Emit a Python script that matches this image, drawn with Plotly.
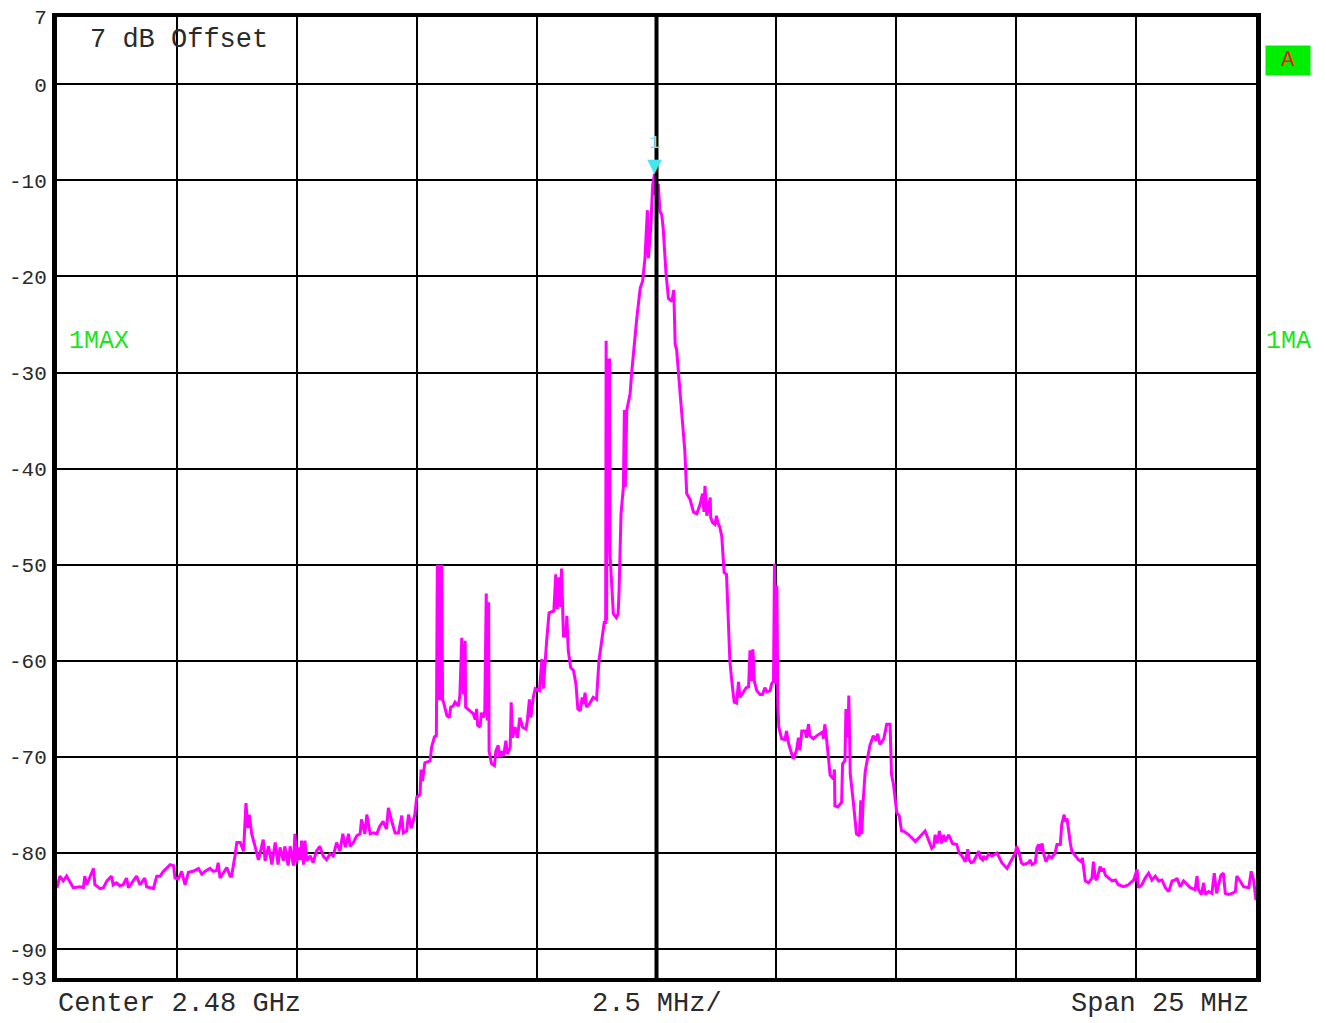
import plotly.graph_objects as go

# ---- Spectrum analyzer settings ----
center_mhz = 2480.0
span_mhz = 25.0
div_mhz = 2.5
ref_top_db = 7
ref_bottom_db = -93
y_tick_vals = [-93, -90, -80, -70, -60, -50, -40, -30, -20, -10, 0, 7]
y_tick_text = ["-93", "-90", "-80", "-70", "-60", "-50", "-40", "-30", "-20", "-10", "0", "7"]

# ---- Trace 1 (Max hold) ----
freq_left = [2467.50, 2467.56, 2467.63, 2467.70, 2467.84, 2467.98, 2468.05, 2468.08, 2468.12, 2468.26,
             2468.29, 2468.40, 2468.47, 2468.54, 2468.64, 2468.67, 2468.74, 2468.81, 2468.88, 2468.95,
             2468.99, 2469.09, 2469.16, 2469.23, 2469.33, 2469.37, 2469.51, 2469.58, 2469.65, 2469.72,
             2469.86, 2469.93, 2469.96, 2470.03, 2470.10, 2470.17, 2470.24, 2470.34, 2470.45, 2470.52,
             2470.59, 2470.69, 2470.76, 2470.83, 2470.86, 2470.90, 2470.97, 2471.04, 2471.11, 2471.14,
             2471.21, 2471.25, 2471.32, 2471.39, 2471.44, 2471.48, 2471.51, 2471.56, 2471.63, 2471.70,
             2471.73, 2471.80, 2471.84, 2471.91, 2471.98, 2472.05, 2472.11, 2472.15, 2472.22, 2472.25,
             2472.32, 2472.36, 2472.43, 2472.46, 2472.50, 2472.53, 2472.57, 2472.60, 2472.64, 2472.67,
             2472.71, 2472.78, 2472.84, 2472.91, 2472.98, 2473.05, 2473.12, 2473.19, 2473.26, 2473.33,
             2473.40, 2473.46, 2473.51, 2473.58, 2473.61, 2473.68, 2473.75, 2473.82, 2473.85, 2473.92,
             2473.96, 2474.03, 2474.10, 2474.17, 2474.23, 2474.30, 2474.37, 2474.41, 2474.48, 2474.55,
             2474.62, 2474.69, 2474.72, 2474.79, 2474.83, 2474.89, 2474.96]
level_left = [-83.6, -82.4, -82.9, -82.4, -83.6, -83.5, -83.6, -82.4, -83.3, -81.6,
              -83.3, -83.7, -83.6, -82.9, -82.4, -83.3, -83.1, -83.4, -83.3, -82.6,
              -83.6, -82.9, -82.4, -83.3, -82.6, -83.5, -83.7, -82.4, -82.4, -81.9,
              -81.2, -81.3, -82.6, -82.7, -81.9, -83.3, -82.0, -81.9, -81.6, -82.2,
              -81.9, -81.6, -81.9, -81.8, -81.0, -82.6, -82.0, -81.5, -82.4, -82.4,
              -80.3, -78.9, -78.9, -79.8, -74.8, -77.4, -76.0, -78.0, -79.3, -80.7,
              -80.1, -78.6, -80.8, -79.3, -81.2, -78.9, -81.2, -79.4, -80.8, -79.3,
              -81.3, -79.3, -81.3, -78.0, -81.0, -79.4, -80.7, -78.7, -81.2, -78.7,
              -80.8, -80.3, -81.0, -79.8, -79.3, -80.3, -80.7, -80.1, -80.3, -78.9,
              -79.8, -78.0, -79.4, -78.0, -79.3, -78.9, -78.2, -78.0, -76.5, -78.0,
              -76.0, -78.0, -77.9, -78.0, -77.2, -76.7, -77.5, -75.3, -76.7, -77.9,
              -77.9, -76.1, -77.9, -77.7, -76.0, -77.4, -76.0]

freq_lower_band = [2475.00, 2475.07, 2475.09, 2475.12, 2475.17, 2475.28, 2475.31, 2475.37, 2475.41,
                   2475.43, 2475.45, 2475.47, 2475.49, 2475.52, 2475.54, 2475.56, 2475.63, 2475.68, 2475.71,
                   2475.76, 2475.80, 2475.87, 2475.90, 2475.94, 2475.97, 2476.01, 2476.02, 2476.11, 2476.18,
                   2476.22, 2476.25, 2476.27, 2476.32, 2476.35, 2476.39, 2476.42, 2476.45, 2476.47, 2476.50,
                   2476.51, 2476.56, 2476.62, 2476.65, 2476.70, 2476.72, 2476.77, 2476.81, 2476.86, 2476.89,
                   2476.95, 2476.97, 2477.00, 2477.05, 2477.10, 2477.15, 2477.21, 2477.28, 2477.31, 2477.35,
                   2477.38, 2477.43, 2477.47, 2477.56, 2477.61, 2477.64, 2477.71, 2477.76, 2477.86, 2477.90,
                   2477.93, 2477.97, 2478.00, 2478.02, 2478.06, 2478.11, 2478.13, 2478.16, 2478.21, 2478.27,
                   2478.32, 2478.36, 2478.41, 2478.45, 2478.48, 2478.51, 2478.54, 2478.60, 2478.68, 2478.75,
                   2478.80, 2478.86, 2478.91]
level_lower_band = [-74.2, -73.9, -71.3, -72.5, -70.6, -70.4, -69.0, -67.9, -67.8,
                    -50.0, -64.1, -50.0, -64.1, -50.0, -64.1, -64.3, -65.7, -65.9, -64.8,
                    -64.7, -64.3, -64.7, -63.6, -57.6, -63.5, -57.9, -64.8, -65.2, -65.5,
                    -66.1, -65.0, -66.7, -66.9, -65.4, -65.9, -65.2, -53.0, -66.2, -53.9,
                    -69.4, -70.7, -70.9, -69.4, -68.8, -70.0, -69.4, -69.9, -68.3, -69.7,
                    -69.0, -64.3, -68.0, -66.9, -68.0, -65.9, -66.9, -67.1, -66.1, -64.0,
                    -65.9, -63.8, -62.9, -63.1, -59.8, -62.9, -57.9, -55.0, -54.8, -51.0,
                    -54.6, -51.3, -54.4, -50.4, -57.4, -57.4, -55.3, -58.9, -60.7, -61.0,
                    -62.4, -65.0, -65.2, -63.8, -64.5, -63.3, -64.8, -64.5, -63.8, -64.0,
                    -60.0, -57.9, -56.0]

freq_carrier = [2478.94, 2478.95, 2478.96, 2478.98, 2479.02, 2479.03, 2479.10, 2479.16, 2479.20, 2479.22,
                2479.26, 2479.31, 2479.33, 2479.35, 2479.38, 2479.45, 2479.48, 2479.52, 2479.59, 2479.66,
                2479.71, 2479.76, 2479.81, 2479.83, 2479.88, 2479.92, 2479.96, 2479.97, 2480.00, 2480.04,
                2480.07, 2480.11, 2480.14, 2480.20, 2480.25, 2480.32, 2480.36, 2480.39, 2480.42, 2480.49,
                2480.55]
level_carrier = [-56.0, -26.7, -55.8, -28.7, -28.7, -48.9, -55.1, -55.5, -55.1, -52.7,
                 -44.7, -41.9, -33.9, -41.9, -33.9, -32.2, -30.1, -27.8, -24.3, -21.2,
                 -20.5, -18.1, -13.1, -18.1, -15.0, -10.5, -9.3, -11.5, -10.5, -10.5,
                 -13.2, -13.6, -15.0, -19.8, -22.3, -22.6, -21.4, -27.1, -27.6, -32.0,
                 -35.5]

freq_upper_band = [2480.59, 2480.63, 2480.70, 2480.77, 2480.84, 2480.91, 2480.96, 2480.99, 2481.01, 2481.05,
                   2481.08, 2481.12, 2481.13, 2481.17, 2481.22, 2481.25, 2481.28, 2481.32, 2481.36, 2481.41,
                   2481.46, 2481.53, 2481.57, 2481.62, 2481.67, 2481.71, 2481.74, 2481.80, 2481.87, 2481.92,
                   2481.95, 2481.98, 2482.01, 2482.04, 2482.09, 2482.16, 2482.21, 2482.26, 2482.30, 2482.37,
                   2482.40, 2482.44, 2482.46, 2482.49, 2482.51, 2482.53, 2482.55, 2482.61, 2482.68, 2482.71,
                   2482.76, 2482.85, 2482.92, 2482.96, 2482.99, 2483.03, 2483.10, 2483.13, 2483.17, 2483.20,
                   2483.27, 2483.34, 2483.41, 2483.46, 2483.48, 2483.51, 2483.55, 2483.58, 2483.62, 2483.69,
                   2483.71, 2483.72, 2483.78, 2483.86, 2483.88, 2483.93, 2483.95, 2483.99, 2484.01, 2484.04,
                   2484.07, 2484.10, 2484.17, 2484.23, 2484.26, 2484.28, 2484.31, 2484.35, 2484.38, 2484.45,
                   2484.52, 2484.58, 2484.61, 2484.66, 2484.74, 2484.80, 2484.87, 2484.90, 2484.94, 2485.01,
                   2485.06, 2485.11]
level_upper_band = [-38.1, -42.6, -43.2, -44.5, -44.7, -43.7, -42.6, -44.5, -41.8, -44.9,
                    -44.2, -43.0, -45.1, -45.6, -45.8, -44.9, -45.6, -46.1, -47.0, -50.8,
                    -51.0, -60.0, -62.1, -64.3, -64.4, -62.2, -63.8, -63.3, -62.8, -62.7,
                    -58.9, -62.1, -58.8, -62.1, -63.1, -63.5, -63.5, -62.8, -63.2, -63.1,
                    -62.4, -62.1, -49.9, -62.4, -52.2, -64.5, -66.9, -68.1, -68.2, -67.3,
                    -68.7, -70.2, -69.3, -68.0, -69.3, -67.3, -67.3, -68.0, -66.6, -67.8,
                    -68.1, -67.8, -67.6, -67.4, -68.1, -66.6, -68.3, -70.0, -71.9, -72.3,
                    -71.3, -75.1, -75.2, -74.7, -70.7, -70.4, -65.0, -68.0, -63.6, -71.8,
                    -73.5, -74.5, -78.0, -78.2, -74.5, -78.0, -74.5, -71.6, -70.7, -68.8,
                    -67.8, -68.3, -67.6, -68.7, -68.1, -66.6, -66.6, -71.8, -72.8, -75.8,
                    -76.1, -77.7]

freq_right = [2485.15, 2485.26, 2485.40, 2485.60, 2485.67, 2485.74, 2485.78, 2485.81, 2485.85, 2485.90,
              2485.94, 2485.99, 2486.02, 2486.09, 2486.12, 2486.17, 2486.26, 2486.31, 2486.37, 2486.44,
              2486.49, 2486.52, 2486.56, 2486.61, 2486.72, 2486.75, 2486.80, 2486.82, 2486.87, 2486.92,
              2486.99, 2487.10, 2487.13, 2487.20, 2487.31, 2487.38, 2487.48, 2487.51, 2487.55, 2487.61,
              2487.65, 2487.76, 2487.79, 2487.83, 2487.90, 2487.93, 2487.97, 2488.00, 2488.04, 2488.07,
              2488.12, 2488.18, 2488.24, 2488.31, 2488.35, 2488.42, 2488.45, 2488.50, 2488.52, 2488.56,
              2488.59, 2488.63, 2488.66, 2488.73, 2488.80, 2488.86, 2488.88, 2488.94, 2489.01, 2489.08,
              2489.11, 2489.15, 2489.18, 2489.25, 2489.29, 2489.32, 2489.36, 2489.43, 2489.50, 2489.57,
              2489.63, 2489.74, 2489.84, 2489.95, 2490.02, 2490.05, 2490.12, 2490.19, 2490.26, 2490.33,
              2490.40, 2490.47, 2490.54, 2490.61, 2490.68, 2490.75, 2490.82, 2490.85, 2490.92, 2490.99,
              2491.06, 2491.13, 2491.23, 2491.27, 2491.30, 2491.36, 2491.41, 2491.44, 2491.51, 2491.58,
              2491.63, 2491.68, 2491.72, 2491.77, 2491.82, 2491.86, 2491.93, 2492.00, 2492.07, 2492.10,
              2492.17, 2492.24, 2492.35, 2492.40, 2492.45, 2492.48, 2492.50]
level_right = [-77.7, -78.1, -78.8, -77.7, -78.6, -79.5, -79.3, -78.1, -79.0, -77.7,
               -79.0, -78.1, -78.8, -78.1, -78.4, -79.0, -79.1, -80.0, -80.3, -80.9,
               -79.6, -80.7, -81.0, -80.9, -79.8, -80.5, -80.7, -80.3, -80.7, -80.1,
               -80.3, -80.0, -80.3, -81.0, -81.6, -81.0, -80.0, -79.3, -79.8, -81.0,
               -81.2, -81.0, -80.7, -81.2, -81.0, -79.5, -79.1, -79.8, -79.0, -80.0,
               -80.9, -80.3, -80.5, -80.0, -79.1, -79.1, -77.0, -76.0, -76.7, -76.4,
               -77.7, -79.0, -79.8, -80.3, -80.7, -80.9, -80.5, -82.9, -83.1, -82.6,
               -80.9, -82.6, -82.8, -81.4, -81.9, -81.6, -82.3, -82.6, -82.9, -82.8,
               -83.3, -83.5, -83.3, -82.8, -81.7, -83.6, -83.3, -82.6, -82.1, -82.8,
               -82.4, -82.9, -82.8, -83.6, -84.0, -82.9, -82.8, -82.6, -83.5, -82.9,
               -83.3, -83.6, -83.8, -82.4, -83.8, -84.3, -83.1, -84.3, -84.0, -84.2,
               -82.1, -84.2, -83.3, -82.3, -82.1, -84.2, -84.3, -84.2, -84.0, -82.4,
               -82.9, -83.5, -83.6, -81.9, -82.8, -84.0, -84.9]

freq_mhz = freq_left + freq_lower_band + freq_carrier + freq_upper_band + freq_right
level_db = level_left + level_lower_band + level_carrier + level_upper_band + level_right

# marker 1 sits on the trace maximum
peak_i = max(range(len(level_db)), key=lambda i: level_db[i])
peak_f = freq_mhz[peak_i]
peak_l = level_db[peak_i]

f_start = center_mhz - span_mhz / 2
f_stop = center_mhz + span_mhz / 2
x_grid = [f_start + div_mhz * k for k in range(11)]

MONO = "Liberation Mono, DejaVu Sans Mono, monospace"
TXT = "#2a2a2a"
GREEN = "#19e619"

fig = go.Figure()
fig.add_trace(go.Scatter(
    x=freq_mhz, y=level_db, mode="lines",
    line=dict(color="#ff00ff", width=3),
    hoverinfo="skip", showlegend=False,
))

fig.update_layout(
    width=1326, height=1023,
    margin=dict(l=57, r=70, t=17, b=45, autoexpand=False),
    paper_bgcolor="white", plot_bgcolor="white",
    showlegend=False,
    xaxis=dict(
        range=[f_start, f_stop], tickvals=x_grid, showticklabels=False,
        showgrid=True, gridcolor="black", gridwidth=2, zeroline=False,
        showline=True, linecolor="black", linewidth=4, mirror=True, ticks="",
        automargin=False,
    ),
    yaxis=dict(
        range=[ref_bottom_db, ref_top_db], tickvals=y_tick_vals, ticktext=y_tick_text,
        showgrid=True, gridcolor="black", gridwidth=2, zeroline=False,
        showline=True, linecolor="black", linewidth=5, mirror=True, ticks="",
        tickfont=dict(family=MONO, size=21, color=TXT), ticklabelstandoff=1,
        automargin=False,
    ),
)

# thicker centre graticule line
fig.add_shape(type="line", xref="x", yref="paper", x0=center_mhz, x1=center_mhz, y0=0, y1=1,
              line=dict(color="black", width=4))

# marker 1 (triangle + label)
fig.add_annotation(x=peak_f, y=peak_l, xref="x", yref="y", text="▼", showarrow=False,
                   font=dict(family="DejaVu Sans", size=19, color="#45e6f0"), yshift=9,
                   borderpad=0)
fig.add_annotation(x=peak_f, y=peak_l, xref="x", yref="y", text="1", showarrow=False,
                   font=dict(family=MONO, size=19, color="#6fe8f2"), yshift=31, borderpad=0)

# screen texts
fig.add_annotation(xref="paper", yref="paper", x=0.026, y=0.994, xanchor="left", yanchor="top",
                   text="7 dB Offset", showarrow=False, font=dict(family=MONO, size=27, color=TXT))
fig.add_annotation(xref="paper", yref="y", x=0.008, y=-26.8, xanchor="left", yanchor="middle",
                   text="1MAX", showarrow=False, font=dict(family=MONO, size=25, color=GREEN))
fig.add_annotation(xref="paper", yref="y", x=1.007, y=-26.8, xanchor="left", yanchor="middle",
                   text="1MA", showarrow=False, font=dict(family=MONO, size=25, color=GREEN))
fig.add_annotation(xref="paper", yref="paper", x=1.0075, y=0.971, xanchor="left", yanchor="top",
                   text=" A ", showarrow=False, bgcolor="#00ee00", borderpad=2,
                   font=dict(family=MONO, size=22, color="#ff1010"))

fig.add_annotation(xref="paper", yref="paper", x=0.0, y=-0.027, xanchor="left", yanchor="middle",
                   text="Center 2.48 GHz", showarrow=False, borderpad=0,
                   font=dict(family=MONO, size=27, color=TXT))
fig.add_annotation(xref="paper", yref="paper", x=0.5, y=-0.027, xanchor="center", yanchor="middle",
                   text="2.5 MHz/", showarrow=False, borderpad=0,
                   font=dict(family=MONO, size=27, color=TXT))
fig.add_annotation(xref="paper", yref="paper", x=0.995, y=-0.027, xanchor="right", yanchor="middle",
                   text="Span 25 MHz", showarrow=False, borderpad=0,
                   font=dict(family=MONO, size=27, color=TXT))

fig.write_html("out.html")
